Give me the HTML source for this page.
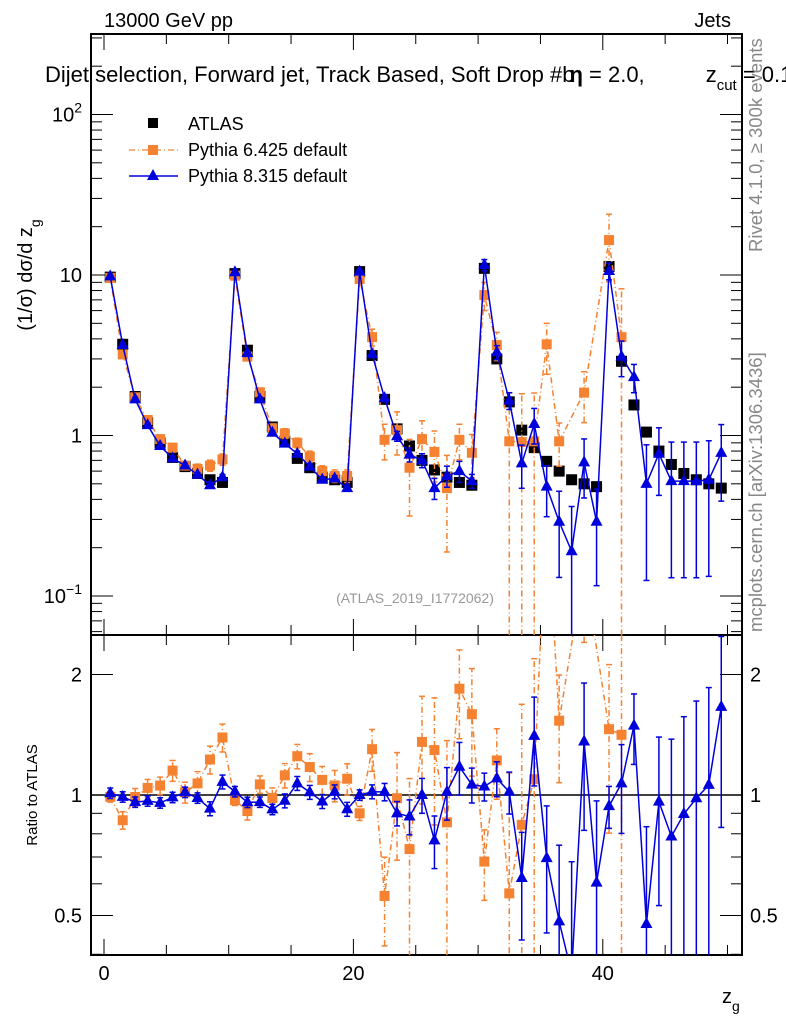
<!DOCTYPE html>
<html><head><meta charset="utf-8">
<style>
html,body{margin:0;padding:0;background:#fff;width:786px;height:1024px;overflow:hidden;}
svg{display:block;font-family:"Liberation Sans",sans-serif;}
</style></head>
<body>
<svg id="chart" width="786" height="1024" viewBox="0 0 786 1024" xmlns="http://www.w3.org/2000/svg">
<text x="104" y="27" font-size="20">13000 GeV pp</text>
<text x="731" y="27" font-size="20" text-anchor="end">Jets</text>
<text x="45" y="82" font-size="22">Dijet selection, Forward jet, Track Based, Soft Drop #b<tspan font-weight="bold" dx="-5">η</tspan> = 2.0,<tspan dx="61">z</tspan><tspan font-size="15" dy="8">cut</tspan><tspan dy="-8"> = 0.1</tspan></text>
<text transform="translate(762,252) rotate(-90)" font-size="18.5" fill="#888">Rivet 4.1.0, ≥ 300k events</text>
<text transform="translate(762,632) rotate(-90)" font-size="18.5" fill="#888">mcplots.cern.ch [arXiv:1306.3436]</text>
<text transform="translate(32,275) rotate(-90)" font-size="20" text-anchor="middle">(1/σ) dσ/d z<tspan font-size="14" dy="8">g</tspan></text>
<text transform="translate(37,795) rotate(-90)" font-size="15" text-anchor="middle">Ratio to ATLAS</text>
<text x="722" y="1003" font-size="20">z<tspan font-size="14" dy="8">g</tspan></text>
<text x="415" y="603" font-size="14" fill="#999" text-anchor="middle">(ATLAS_2019_I1772062)</text>
<g id="legend">
 <rect x="148" y="118" width="10" height="10" fill="#000"/>
 <text x="188" y="130" font-size="18">ATLAS</text>
 <line x1="129" y1="150" x2="178" y2="150" stroke="#f58231" stroke-width="1.2" stroke-dasharray="6,3,1,3"/>
 <rect x="148" y="145" width="10" height="10" fill="#f58231"/>
 <text x="188" y="156" font-size="18">Pythia 6.425 default</text>
 <line x1="129" y1="176" x2="178" y2="176" stroke="#0000dd" stroke-width="1.5"/>
 <polygon points="153,169 159,180 147,180" fill="#0000dd"/>
 <text x="188" y="182" font-size="18">Pythia 8.315 default</text>
</g>
<g id="plot"></g>
</svg>
<script>
const binCenters=[0.5,1.5,2.5,3.5,4.5,5.5,6.5,7.5,8.5,9.5,10.5,11.5,12.5,13.5,14.5,15.5,16.5,17.5,18.5,19.5,20.5,21.5,22.5,23.5,24.5,25.5,26.5,27.5,28.5,29.5,30.5,31.5,32.5,33.5,34.5,35.5,36.5,37.5,38.5,39.5,40.5,41.5,42.5,43.5,44.5,45.5,46.5,47.5,48.5,49.5];
const atlas=[9.7,3.7,1.75,1.2,0.9,0.73,0.64,0.58,0.53,0.51,10.2,3.4,1.75,1.13,0.92,0.72,0.63,0.55,0.53,0.51,10.5,3.15,1.68,1.1,0.86,0.70,0.61,0.55,0.51,0.49,11.0,3.0,1.62,1.08,0.84,0.69,0.60,0.53,0.50,0.48,11.3,2.9,1.55,1.05,0.80,0.66,0.58,0.53,0.50,0.47];
const py6=[9.6,3.2,1.73,1.25,0.95,0.84,0.65,0.62,0.65,0.71,9.9,3.1,1.86,1.11,1.03,0.90,0.74,0.60,0.56,0.56,9.45,4.1,0.94,1.08,0.63,0.95,0.79,0.47,0.94,0.78,7.5,3.66,0.92,0.91,0.92,3.7,0.92,null,1.85,null,16.5,4.1,null,null,null,null,null,null,null,null];
const py6Err=[0.03,0.05,0.05,0.05,0.05,0.06,0.06,0.07,0.08,0.08,0.03,0.05,0.05,0.06,0.07,0.07,0.08,0.08,0.09,0.09,0.04,0.12,0.25,0.3,0.5,0.3,0.35,0.6,0.25,0.3,0.2,0.2,1,1,1,0.35,0.3,0,0.35,0,0.45,1,0,0,0,0,0,0,0,0];
const py8=[9.8,3.66,1.68,1.16,0.86,0.72,0.65,0.57,0.49,0.55,10.4,3.26,1.68,1.04,0.89,0.77,0.64,0.53,0.54,0.47,10.5,3.21,1.71,0.99,0.76,0.70,0.47,0.56,0.60,0.52,11.55,3.3,1.65,0.67,1.18,0.48,0.29,0.19,0.68,0.29,10.6,3.1,2.31,0.50,0.77,0.52,0.52,0.52,0.53,0.78];
const py8Err=[0.03,0.03,0.03,0.03,0.03,0.03,0.03,0.03,0.04,0.04,0.03,0.03,0.03,0.03,0.04,0.04,0.04,0.04,0.04,0.04,0.03,0.04,0.05,0.07,0.1,0.1,0.15,0.15,0.15,0.1,0.08,0.1,0.12,0.3,0.25,0.35,0.55,0.9,0.4,0.6,0.12,0.25,0.2,0.75,0.45,0.75,0.75,0.75,0.75,0.5];
const xTickLabels=[0,20,40];
const yTickLabels=[["10","−1",0.1],["1","",1],["10","",10],["10","2",100]];
const rTickLabels=[0.5,1,2];

const NS="http://www.w3.org/2000/svg";
const L=91,R=742,T=34,MB=635,RB=955;
const X=v=>104+(v)*12.47;
const Y=v=>275-(Math.log10(v)-1)*160.5;
const RY=v=>795-Math.log2(v)*120.5;
const g=document.getElementById('plot');
function mk(tag,attrs,parent){const e=document.createElementNS(NS,tag);for(const k in attrs)e.setAttribute(k,attrs[k]);(parent||g).appendChild(e);return e;}

const defs=mk('defs',{});
const c1=mk('clipPath',{id:'cm'},defs);mk('rect',{x:L,y:T,width:R-L,height:MB-T},c1);
const c2=mk('clipPath',{id:'cr'},defs);mk('rect',{x:L,y:MB,width:R-L,height:RB-MB},c2);

let f=mk('rect',{x:L,y:T,width:R-L,height:MB-T,fill:'none',stroke:'#000','stroke-width':2});

f=mk('rect',{x:L,y:MB,width:R-L,height:RB-MB,fill:'none',stroke:'#000','stroke-width':2});


for(let v=0;v<=50;v+=5){const x=X(v);const len=(v%20===0)?16:10;
 [[T,1],[MB,-1],[MB,1],[RB,-1]].forEach(([y0,d])=>mk('line',{x1:x,y1:y0,x2:x,y2:y0+d*len,stroke:'#000','stroke-width':1}));}
xTickLabels.forEach(v=>{const t=mk('text',{x:X(v),y:980,'font-size':20,'text-anchor':'middle'});t.textContent=v;
 });

for(let e=-2;e<=2;e++){for(let m=1;m<=9;m++){const v=m*Math.pow(10,e);const y=Y(v);if(y<T||y>MB)continue;const len=m===1?22:11;
 mk('line',{x1:L,y1:y,x2:L+len,y2:y,stroke:'#000'});mk('line',{x1:R,y1:y,x2:R-len,y2:y,stroke:'#000'});}}
yTickLabels.forEach(([b,sup,v])=>{const t=mk('text',{x:82,y:Y(v)+7,'font-size':20,'text-anchor':'end'});
 t.textContent=b;if(sup){const s=mk('tspan',{'font-size':14,dy:-9},t);s.textContent=sup;}
 });

[0.4,0.5,0.6,0.7,0.8,0.9,1,2].forEach(v=>{const y=RY(v);const len=(v===0.5||v===1||v===2)?22:11;
 mk('line',{x1:L,y1:y,x2:L+len,y2:y,stroke:'#000'});mk('line',{x1:R,y1:y,x2:R-len,y2:y,stroke:'#000'});});
rTickLabels.forEach(v=>{[[82,'end'],[750,'start']].forEach(([x,a])=>{const t=mk('text',{x:x,y:RY(v)+7,'font-size':20,'text-anchor':a});t.textContent=v;
 });});
mk('line',{x1:L,y1:RY(1),x2:R,y2:RY(1),stroke:'#000','stroke-width':1.5});

const gm=mk('g',{'clip-path':'url(#cm)'});
const gr=mk('g',{'clip-path':'url(#cr)'});

function series(vals,errs,color,dash,marker,name,parent,yf){
 const pts=[];
 vals.forEach((v,i)=>{if(v==null||!(v>0))return;pts.push([X(binCenters[i]),yf(v),i]);});
 const pl=mk('polyline',{points:pts.map(p=>p[0]+','+p[1]).join(' '),fill:'none',stroke:color,'stroke-width':1.5},parent);
 if(dash)pl.setAttribute('stroke-dasharray',dash);
 
 pts.forEach(([x,y,i])=>{const v=vals[i];const e=errs[i]*v;
  if(errs[i]>0){const lo=Math.max(v-e,1e-4),hi=v+e;
   const el=mk('line',{x1:x,y1:yf(lo),x2:x,y2:yf(hi),stroke:color,'stroke-width':1.5},parent);if(dash)el.setAttribute('stroke-dasharray',dash);
   
   mk('line',{x1:x-3,y1:yf(hi),x2:x+3,y2:yf(hi),stroke:color,'stroke-width':1.5},parent);
   if(v-e>0)mk('line',{x1:x-3,y1:yf(lo),x2:x+3,y2:yf(lo),stroke:color,'stroke-width':1.5},parent);}
  let m;
  if(marker==='sq')m=mk('rect',{x:x-5,y:y-5,width:10,height:10,fill:color},parent);
  else m=mk('polygon',{points:`${x},${y-7} ${x+6},${y+4} ${x-6},${y+4}`,fill:color},parent);
  });
}
atlas.forEach((v,i)=>{const x=X(binCenters[i]),y=Y(v);const m=mk('rect',{x:x-5.5,y:y-5.5,width:11,height:11,fill:'#000'},gm);
 });
series(py6,py6Err,'#f58231','6,3,1,3','sq','pythia6',gm,Y);
series(py8,py8Err,'#0000dd',null,'tri','pythia8',gm,Y);
const r6=py6.map((v,i)=>v==null?null:v/atlas[i]);
const r8=py8.map((v,i)=>v/atlas[i]);
series(r6,py6Err,'#f58231','6,3,1,3','sq','pythia6-ratio',gr,RY);
series(r8,py8Err,'#0000dd',null,'tri','pythia8-ratio',gr,RY);
</script>
</body></html>
